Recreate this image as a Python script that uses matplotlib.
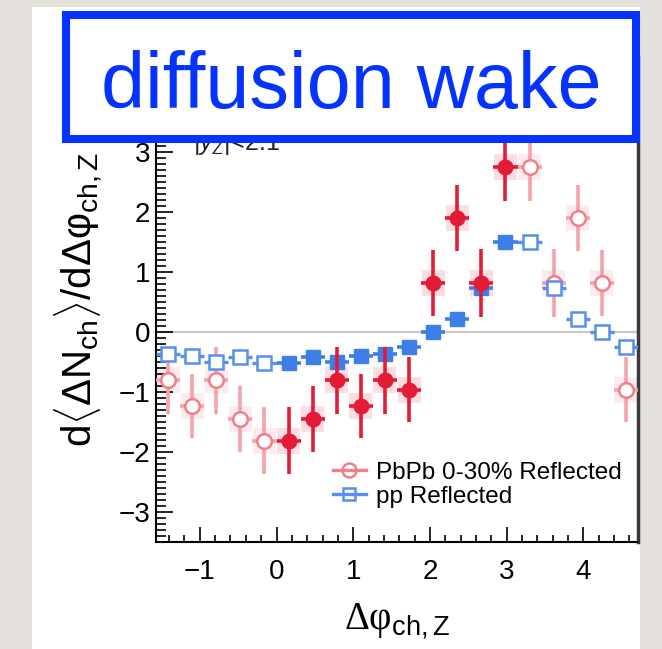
import numpy as np
import matplotlib.pyplot as plt
from matplotlib.patches import Rectangle
from matplotlib.lines import Line2D
from matplotlib.ticker import MultipleLocator

plt.rcParams['font.family'] = ['Liberation Sans', 'DejaVu Sans']
plt.rcParams['mathtext.fontset'] = 'custom'
plt.rcParams['mathtext.rm'] = 'Liberation Sans'
plt.rcParams['mathtext.it'] = 'Liberation Sans:italic'
plt.rcParams['mathtext.bf'] = 'Liberation Sans:bold'
plt.rcParams['mathtext.sf'] = 'Liberation Sans'

# dphi bin centres on [0, pi], pi/10 wide bins
dphi = np.array([0.157, 0.471, 0.785, 1.100, 1.414, 1.728, 2.042, 2.356, 2.670, 2.985])
half_bin = 0.157
pbpb = np.array([-1.82, -1.46, -0.81, -1.24, -0.81, -0.97, 0.81, 1.89, 0.81, 2.74])
pbpb_err = np.array([0.56, 0.55, 0.56, 0.54, 0.56, 0.54, 0.55, 0.55, 0.56, 0.57])
pbpb_sys = 0.22
pp = np.array([-0.52, -0.42, -0.51, -0.41, -0.37, -0.26, -0.01, 0.21, 0.73, 1.49])
pp_err = 0.04

red = '#e31b35'
pink = '#f07f8b'
pink_bar = '#f4a2ab'
blue = '#3d7ee8'
blue_open = '#5790ee'

# reflected points: x -> -x below pi/2, x -> 2pi - x above
refl = np.where(dphi < np.pi / 2, -dphi, 2 * np.pi - dphi)

fig = plt.figure(figsize=(6.62, 6.49), dpi=100, facecolor='#e4e1dd')
fig.add_artist(Rectangle((32 / 662, 0), 608 / 662, 642 / 649, transform=fig.transFigure,
                         facecolor='white', edgecolor='none', zorder=-1))

ax = fig.add_axes([156 / 662, 1 - 542 / 649, 482 / 662, 485 / 649])
ax.set_facecolor('white')
ax.set_xlim(-np.pi / 2, 3 * np.pi / 2)
ax.set_ylim(-3.508, 4.575)

ax.axhline(0, color='#c8c8c8', lw=1.6, zorder=0.5)

# systematic boxes
for x, y in zip(dphi, pbpb):
    ax.add_patch(Rectangle((x - 0.15, y - pbpb_sys), 0.30, 2 * pbpb_sys,
                           facecolor='#fddde1', edgecolor='none', zorder=1))
for x, y in zip(refl, pbpb):
    ax.add_patch(Rectangle((x - 0.15, y - pbpb_sys), 0.30, 2 * pbpb_sys,
                           facecolor='#feebed', edgecolor='none', zorder=1))

ax.errorbar(refl, pbpb, yerr=pbpb_err, xerr=half_bin, fmt='o', ms=10.5,
            mfc='white', mec=pink, mew=1.8, ecolor=pink_bar, elinewidth=2.6,
            capsize=0, zorder=3)
ax.errorbar(refl, pp, yerr=pp_err, xerr=half_bin, fmt='s', ms=10,
            mfc='white', mec=blue_open, mew=1.8, ecolor=blue_open, elinewidth=2.4,
            capsize=0, zorder=4)
ax.errorbar(dphi, pp, yerr=pp_err, xerr=half_bin, fmt='s', ms=10,
            color=blue, ecolor=blue, elinewidth=2.6, capsize=0, zorder=4)
ax.errorbar(dphi, pbpb, yerr=pbpb_err, xerr=half_bin, fmt='o', ms=10.5,
            color=red, ecolor=red, elinewidth=2.6, capsize=0, zorder=5)

ax.text(-1.09, 3.03, r'$|y_{\rm Z}|$<2.1', fontsize=18, color='#222222', zorder=6)

for side in ['left', 'bottom']:
    ax.spines[side].set_linewidth(1.5)
ax.spines['top'].set_visible(False)
ax.spines['right'].set_linewidth(2.5)
ax.spines['right'].set_color('#3a3a3a')

ax.xaxis.set_major_locator(MultipleLocator(1))
ax.xaxis.set_minor_locator(MultipleLocator(0.2))
ax.yaxis.set_major_locator(MultipleLocator(1))
ax.yaxis.set_minor_locator(MultipleLocator(0.1))
ax.tick_params(axis='x', which='major', direction='in', length=11, width=1.2,
               labelsize=20, pad=12)
ax.tick_params(axis='x', which='minor', direction='in', length=5, width=1.2)
ax.tick_params(axis='y', which='major', direction='in', length=12, width=1.2,
               labelsize=20, pad=4)
ax.tick_params(axis='y', which='minor', direction='in', length=7, width=1.2)
ax.set_yticks([-3, -2, -1, 0, 1, 2, 3])

ax.set_ylabel(r'd$\langle$ΔN$_{\rm ch}$$\rangle$/dΔφ$_{\rm ch,Z}$', fontsize=29)
ax.yaxis.set_label_coords(-0.106, 0.5)
ax.set_xlabel(r'Δφ$_{\rm ch,Z}$', fontsize=28, family='Liberation Serif')
ax.xaxis.set_label_coords(0.5, -0.122)

handles = [
    Line2D([], [], marker='o', ms=10, mfc='none', mec=pink, mew=1.8, color=pink, lw=2.4),
    Line2D([], [], marker='s', ms=9, mfc='none', mec=blue_open, mew=1.8, color=blue_open, lw=2.4),
]
ax.legend(handles, ['PbPb 0-30% Reflected', 'pp Reflected'], loc='upper left',
          bbox_to_anchor=(0.367, 0.166), frameon=False, fontsize=17.5,
          handlelength=1.36, handletextpad=0.4, borderpad=0, borderaxespad=0,
          labelspacing=0.1)

# label box drawn over the frame
fig.add_artist(Rectangle((66 / 662, 1 - 139 / 649), 570 / 662, 123.5 / 649,
                         transform=fig.transFigure, facecolor='white',
                         edgecolor='#0433ff', lw=5.8, zorder=10))
fig.text(351 / 662, 1 - 108 / 649, 'diffusion wake', ha='center', va='baseline',
         fontsize=57, color='#0433ff', zorder=11)

fig.savefig('out.png', dpi=100, facecolor=fig.get_facecolor())
